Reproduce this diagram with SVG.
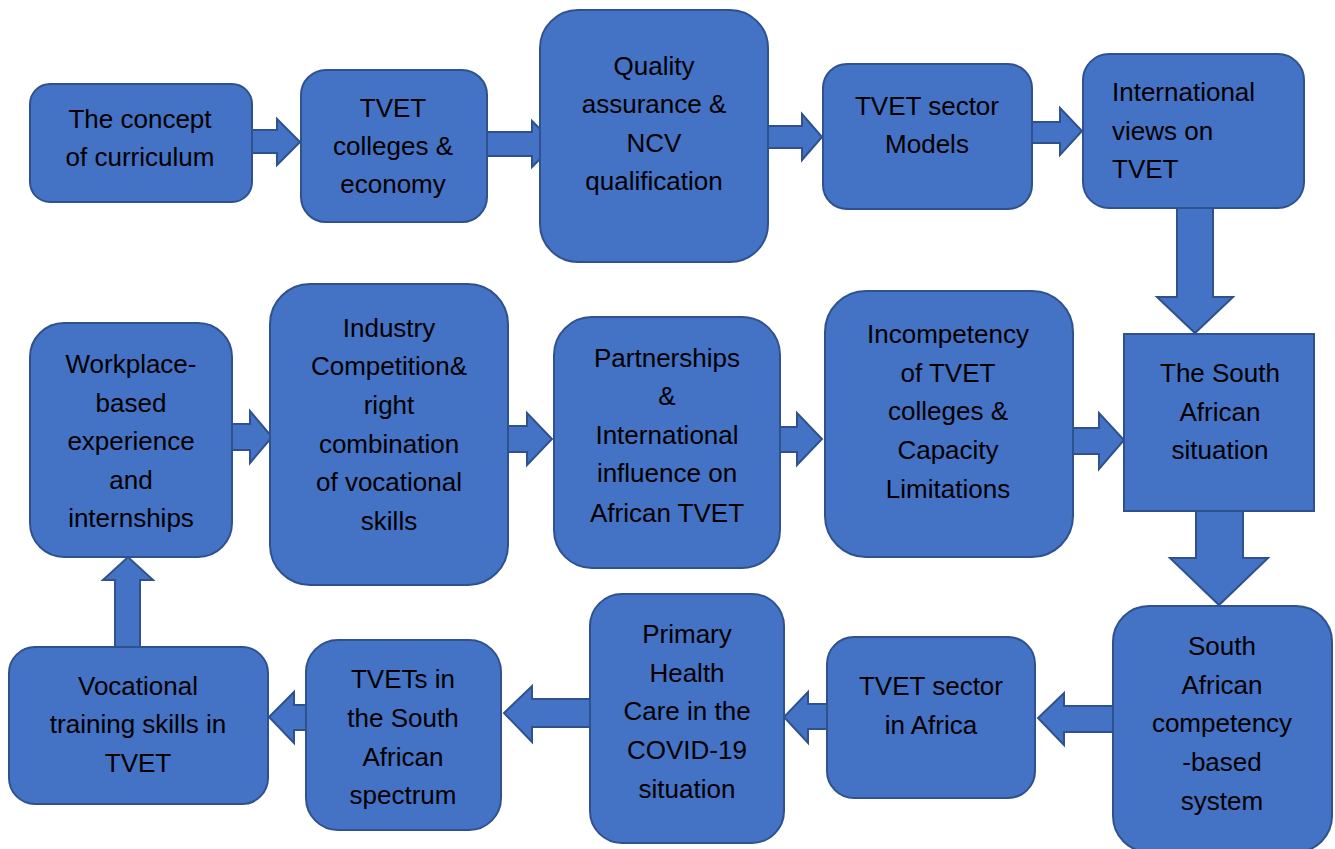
<svg xmlns="http://www.w3.org/2000/svg" width="1335" height="849" viewBox="0 0 1335 849">
<style>
.box{fill:#4472C4;stroke:#2F528F;stroke-width:2}
.arr{fill:#4472C4;stroke:#2F528F;stroke-width:2;stroke-linejoin:miter}
.t{font-family:"Liberation Sans",Arial,sans-serif;font-size:26px;fill:#000;text-anchor:middle}
.tl{font-family:"Liberation Sans",Arial,sans-serif;font-size:26px;fill:#000;text-anchor:start}
</style>
<rect width="1335" height="849" fill="#fff"/>
<g id="connectors">
<path class="arr" d="M251,130 H277 V119 L300,142 L277,165 V153 H251 Z"/>
<path class="arr" d="M487,132 H532 V121 L555,144 L532,167 V156 H487 Z"/>
<path class="arr" d="M768,126 H802 V114 L822,137 L802,160 V148 H768 Z"/>
<path class="arr" d="M1032,122 H1060 V108 L1082,131 L1060,155 V143 H1032 Z"/>
<path class="arr" d="M1177,208 V297 H1157 L1195,333 L1233,297 H1213 V208 Z"/>
<path class="arr" d="M1196,511 V558 H1170 L1219,605 L1268,558 H1243 V511 Z"/>
<path class="arr" d="M1073,428 H1099 V413 L1124,440 L1099,469 V454 H1073 Z"/>
<path class="arr" d="M780,427 H797 V413 L822,439 L797,465 V452 H780 Z"/>
<path class="arr" d="M508,426 H527 V413 L552,439 L527,465 V452 H508 Z"/>
<path class="arr" d="M232,424 H250 V411 L272,437 L250,463 V450 H232 Z"/>
<path class="arr" d="M115,647 V580 H103 L128,557 L153,580 H140 V647 Z"/>
<path class="arr" d="M306,705 H294 V692 L269,717 L294,743 V730 H306 Z"/>
<path class="arr" d="M590,699 H532 V686 L504,713 L532,742 V727 H590 Z"/>
<path class="arr" d="M827,704 H808 V692 L784,717 L808,743 V729 H827 Z"/>
<path class="arr" d="M1113,706 H1064 V693 L1038,718 L1064,745 V732 H1113 Z"/>
</g>
<g id="n1"><rect class="box" x="30" y="84" width="222" height="118" rx="20"/>
<text class="t"><tspan x="140" y="128">The concept</tspan><tspan x="140" y="166">of curriculum</tspan></text></g>
<g id="n2"><rect class="box" x="301" y="70" width="186" height="152" rx="25"/>
<text class="t"><tspan x="393" y="117">TVET</tspan><tspan x="393" y="155">colleges &amp;</tspan><tspan x="393" y="193">economy</tspan></text></g>
<g id="n3"><rect class="box" x="540" y="10" width="228" height="252" rx="38"/>
<text class="t"><tspan x="654" y="75">Quality</tspan><tspan x="654" y="113">assurance &amp;</tspan><tspan x="654" y="152">NCV</tspan><tspan x="654" y="190">qualification</tspan></text></g>
<g id="n4"><rect class="box" x="823" y="64" width="209" height="145" rx="24"/>
<text class="t"><tspan x="927" y="115">TVET sector</tspan><tspan x="927" y="153">Models</tspan></text></g>
<g id="n5"><rect class="box" x="1083" y="54" width="221" height="154" rx="26"/>
<text class="tl"><tspan x="1112" y="101">International</tspan><tspan x="1112" y="140">views on</tspan><tspan x="1112" y="178">TVET</tspan></text></g>
<g id="n6"><rect class="box" x="1124" y="334" width="190" height="177"/>
<text class="t"><tspan x="1220" y="382">The South</tspan><tspan x="1220" y="421">African</tspan><tspan x="1220" y="459">situation</tspan></text></g>
<g id="n7"><rect class="box" x="1113" y="606" width="219" height="246" rx="36"/>
<text class="t"><tspan x="1222" y="655">South</tspan><tspan x="1222" y="694">African</tspan><tspan x="1222" y="732">competency</tspan><tspan x="1222" y="771">-based</tspan><tspan x="1222" y="810">system</tspan></text></g>
<g id="n8"><rect class="box" x="827" y="637" width="208" height="161" rx="27"/>
<text class="t"><tspan x="931" y="695">TVET sector</tspan><tspan x="931" y="734">in Africa</tspan></text></g>
<g id="n9"><rect class="box" x="590" y="594" width="194" height="249" rx="32"/>
<text class="t"><tspan x="687" y="643">Primary</tspan><tspan x="687" y="682">Health</tspan><tspan x="687" y="720">Care in the</tspan><tspan x="687" y="759">COVID-19</tspan><tspan x="687" y="798">situation</tspan></text></g>
<g id="n10"><rect class="box" x="306" y="640" width="195" height="190" rx="32"/>
<text class="t"><tspan x="403" y="688">TVETs in</tspan><tspan x="403" y="727">the South</tspan><tspan x="403" y="766">African</tspan><tspan x="403" y="804">spectrum</tspan></text></g>
<g id="n11"><rect class="box" x="9" y="647" width="259" height="157" rx="26"/>
<text class="t"><tspan x="138" y="695">Vocational</tspan><tspan x="138" y="733">training skills in</tspan><tspan x="138" y="772">TVET</tspan></text></g>
<g id="n12"><rect class="box" x="30" y="323" width="202" height="234" rx="34"/>
<text class="t"><tspan x="131" y="373">Workplace-</tspan><tspan x="131" y="412">based</tspan><tspan x="131" y="450">experience</tspan><tspan x="131" y="489">and</tspan><tspan x="131" y="527">internships</tspan></text></g>
<g id="n13"><rect class="box" x="270" y="284" width="238" height="301" rx="40"/>
<text class="t"><tspan x="389" y="337">Industry</tspan><tspan x="389" y="375">Competition&amp;</tspan><tspan x="389" y="414">right</tspan><tspan x="389" y="453">combination</tspan><tspan x="389" y="491">of vocational</tspan><tspan x="389" y="530">skills</tspan></text></g>
<g id="n14"><rect class="box" x="554" y="317" width="226" height="251" rx="38"/>
<text class="t"><tspan x="667" y="367">Partnerships</tspan><tspan x="667" y="405">&amp;</tspan><tspan x="667" y="444">International</tspan><tspan x="667" y="482">influence on</tspan><tspan x="667" y="522">African TVET</tspan></text></g>
<g id="n15"><rect class="box" x="825" y="291" width="248" height="266" rx="41"/>
<text class="t"><tspan x="948" y="343">Incompetency</tspan><tspan x="948" y="382">of TVET</tspan><tspan x="948" y="420">colleges &amp;</tspan><tspan x="948" y="459">Capacity</tspan><tspan x="948" y="498">Limitations</tspan></text></g>
</svg>
